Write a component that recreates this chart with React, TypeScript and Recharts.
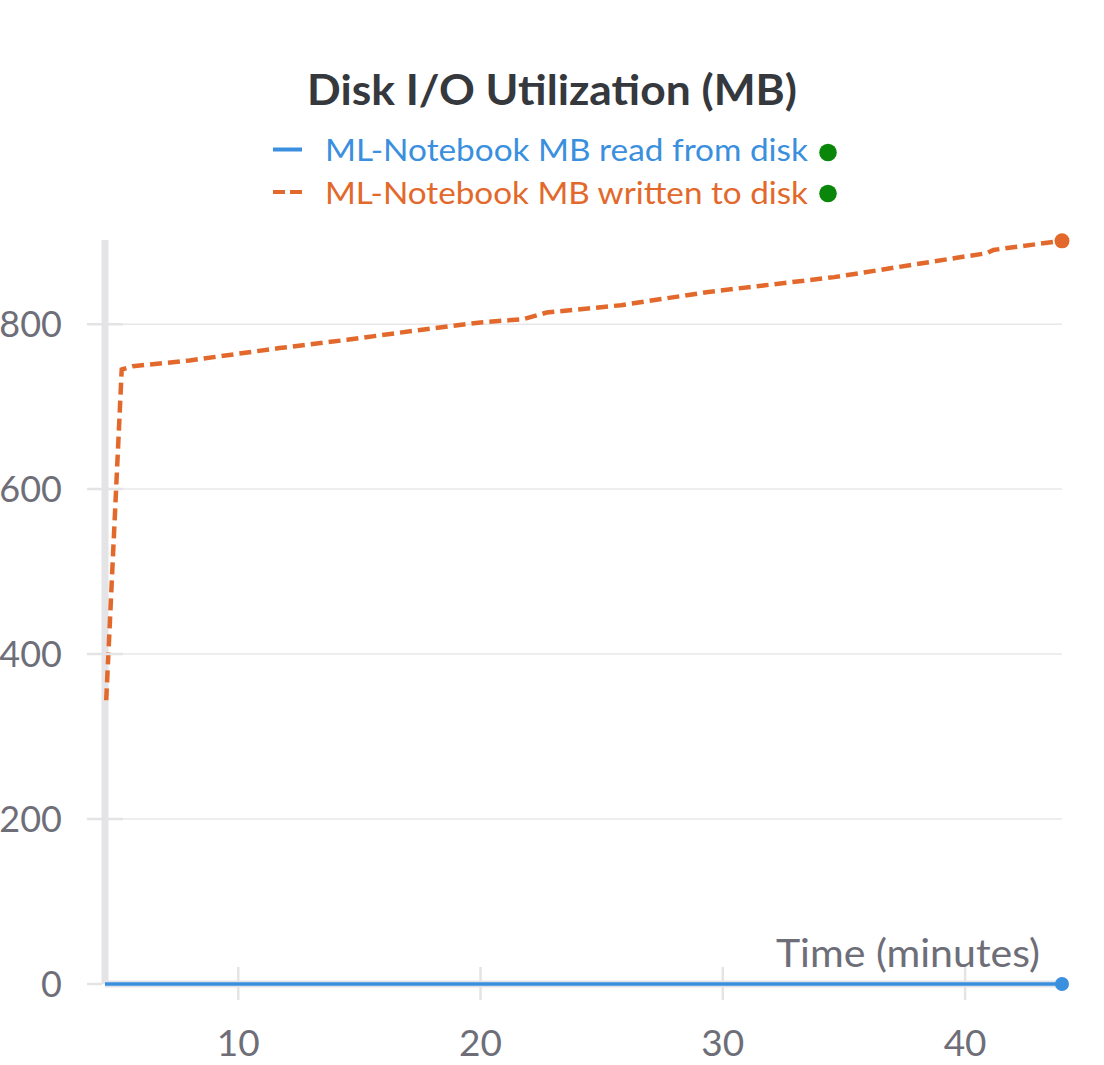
import React from 'react';
import { LineChart, Line, XAxis, YAxis, CartesianGrid } from 'recharts';

const chartTitle = 'Disk I/O Utilization (MB)';
const readLabel = 'ML-Notebook MB read from disk';
const writtenLabel = 'ML-Notebook MB written to disk';
const xAxisLabel = 'Time (minutes)';

const xTicks = [10, 20, 30, 40];
const yTicks = [0, 200, 400, 600, 800];
const xDomain = [4.5, 44];
const yDomain = [0, 902];

const readTimes = [4.5, 10, 20, 30, 40, 44];
const readMB = [0, 0, 0, 0, 0, 0];

const writtenTimes = [4.55, 5.19, 5.65, 8.0, 11.7, 14.5, 17.5, 20.0, 21.75, 22.73, 25.8, 29.4, 34.6, 40.0, 40.9, 41.17, 44.0];
const writtenMB = [344, 745, 749, 756, 771, 781, 793, 802, 806, 814, 823, 839, 857, 882, 886, 890, 901];

const readData = readTimes.map((t, i) => ({ t, v: readMB[i] }));
const writtenData = writtenTimes.map((t, i) => ({ t, v: writtenMB[i] }));

const BLUE = '#3a8fde';
const ORANGE = '#e2692b';
const GREEN = '#0a870a';
const TICK_COLOR = '#6e6e78';
const AXIS_COLOR = '#e4e4e7';
const FONT = 'Lato, "Open Sans", sans-serif';

const Y_TICK_SIZE = 18;
const Y_TICK_MARGIN = 25;
const X_TICK_SIZE = 16;

const YTick = (props: any) => {
  const { x, y, payload } = props;
  const ax = x + Y_TICK_SIZE + Y_TICK_MARGIN;
  const right = payload.value === 0 ? ax - 3 : ax + 18;
  return (
    <g>
      <line x1={ax - 18} x2={right} y1={y} y2={y} stroke={AXIS_COLOR} strokeWidth={2.5} />
      <text x={x} y={y + 13} textAnchor="end" fontSize={36} fill={TICK_COLOR} fontFamily={FONT}>
        {payload.value}
      </text>
    </g>
  );
};

const XTick = (props: any) => {
  const { x, y, payload } = props;
  const ay = y - X_TICK_SIZE;
  return (
    <g>
      <line x1={x} x2={x} y1={ay - 17} y2={ay - 3} stroke={AXIS_COLOR} strokeWidth={2.5} />
      <line x1={x} x2={x} y1={ay + 3} y2={ay + 16} stroke={AXIS_COLOR} strokeWidth={2.5} />
      <text x={x} y={ay + 72} textAnchor="middle" fontSize={37} fill={TICK_COLOR} fontFamily={FONT}>
        {payload.value}
      </text>
    </g>
  );
};

const TimeLabel = (props: any) => {
  const vb = props.viewBox || {};
  return (
    <text
      x={vb.x + vb.width - 22}
      y={vb.y - 17}
      textAnchor="end"
      fontSize={39}
      fill={TICK_COLOR}
      fontFamily={FONT}
      textLength={264}
      lengthAdjust="spacingAndGlyphs"
    >
      {xAxisLabel}
    </text>
  );
};

const makeEndDot = (color: string, count: number, r: number) => (props: any) => {
  const { cx, cy, index } = props;
  if (index !== count - 1) return <g key={`d${index}`} />;
  return <circle key={`d${index}`} cx={cx} cy={cy} r={r} fill={color} />;
};

const applyScale = (scale: any, v: number) => {
  if (typeof scale === 'function') return scale(v);
  if (scale && typeof scale.map === 'function') return scale.map(v);
  if (scale && typeof scale.scale === 'function') return scale.scale(v);
  return undefined;
};

const valid = (pts: any[]) => (pts.every((p) => typeof p === 'number' && isFinite(p)) ? pts : []);

const gridRows = (args: any) => valid(yTicks.filter((v) => v > 0).map((v) => applyScale(args?.yAxis?.scale, v)));
const axisRow = (args: any) => valid([applyScale(args?.yAxis?.scale, yDomain[0])]);
const axisCol = (args: any) => valid([applyScale(args?.xAxis?.scale, xDomain[0])]);

export default function App() {
  return (
    <div style={{ position: 'absolute', left: 0, top: 0, width: 1104, height: 1065, background: '#fff' }}>
      <LineChart width={1104} height={1065} margin={{ top: 240, right: 42, bottom: 0, left: 0 }}>
        <CartesianGrid
          vertical={false}
          stroke="#e8e8ea"
          strokeWidth={1.5}
          horizontalCoordinatesGenerator={gridRows}
        />
        <CartesianGrid
          stroke={AXIS_COLOR}
          strokeWidth={7}
          horizontalCoordinatesGenerator={axisRow}
          verticalCoordinatesGenerator={axisCol}
        />
        <XAxis
          type="number"
          dataKey="t"
          domain={xDomain}
          ticks={xTicks}
          height={81}
          axisLine={false}
          tickLine={false}
          tickSize={X_TICK_SIZE}
          tickMargin={0}
          tick={<XTick />}
          label={<TimeLabel />}
        />
        <YAxis
          type="number"
          dataKey="v"
          domain={yDomain}
          ticks={yTicks}
          width={105}
          axisLine={false}
          tickLine={false}
          tickSize={Y_TICK_SIZE}
          tickMargin={Y_TICK_MARGIN}
          tick={<YTick />}
        />
        <Line
          data={readData}
          dataKey="v"
          type="linear"
          stroke={BLUE}
          strokeWidth={3.5}
          dot={makeEndDot(BLUE, readData.length, 7)}
          activeDot={false}
          isAnimationActive={false}
        />
        <Line
          data={writtenData}
          dataKey="v"
          type="linear"
          stroke={ORANGE}
          strokeWidth={4.5}
          strokeDasharray="12 6"
          dot={makeEndDot(ORANGE, writtenData.length, 7.5)}
          activeDot={false}
          isAnimationActive={false}
        />
      </LineChart>
      <svg width={1104} height={230} style={{ position: 'absolute', left: 0, top: 0 }}>
        <text
          x={552}
          y={105}
          textAnchor="middle"
          fontSize={42}
          fontWeight={700}
          fill="#35383d"
          fontFamily={FONT}
          textLength={490}
          lengthAdjust="spacingAndGlyphs"
        >
          {chartTitle}
        </text>
        <line x1={273} x2={302} y1={149.5} y2={149.5} stroke={BLUE} strokeWidth={4} />
        <text x={325} y={161} fontSize={31} fill={BLUE} fontFamily={FONT} textLength={483} lengthAdjust="spacingAndGlyphs">
          {readLabel}
        </text>
        <circle cx={828} cy={152.5} r={8.8} fill={GREEN} />
        <line x1={273} x2={302} y1={192} y2={192} stroke={ORANGE} strokeWidth={4} strokeDasharray="12 5" />
        <text x={325} y={204} fontSize={31} fill={ORANGE} fontFamily={FONT} textLength={483} lengthAdjust="spacingAndGlyphs">
          {writtenLabel}
        </text>
        <circle cx={828} cy={193.5} r={8.8} fill={GREEN} />
      </svg>
    </div>
  );
}
